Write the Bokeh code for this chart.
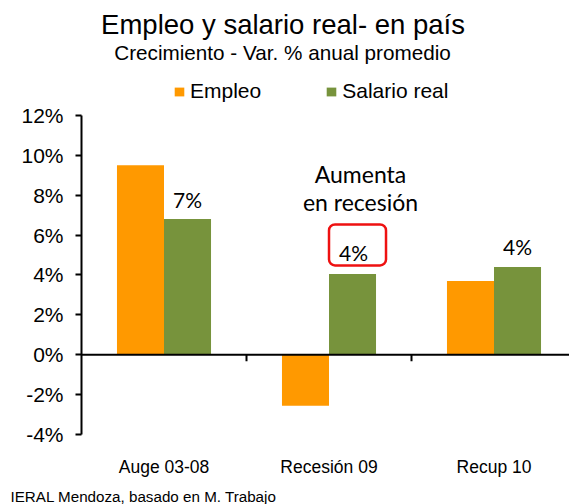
from bokeh.plotting import figure
from bokeh.models import (Range1d, FixedTicker, PrintfTickFormatter, Span, Label, Title,
                          Legend, LegendItem, ColumnDataSource)
from bokeh.transform import dodge
from bokeh.embed import file_html
from bokeh.resources import INLINE
from bokeh.core.properties import value

# ---------------- data ----------------
categories = ["Auge 03-08", "Recesión 09", "Recup 10"]
empleo = [9.5, -2.55, 3.7]
salario = [6.8, 4.05, 4.4]
y_ticks = [-4, -2, 0, 2, 4, 6, 8, 10, 12]
series_names = ["Empleo", "Salario real"]
title_text = "Empleo y salario real- en país"
subtitle_text = "Crecimiento - Var. % anual promedio"
note_lines = ["Aumenta", "en recesión"]
source_text = "IERAL Mendoza, basado en M. Trabajo"
highlight = "Recesión 09"

# ---------------- style / layout ----------------
ORANGE = "#FF9900"
GREEN = "#77933C"
RED = "#EE1111"
SANS = "Liberation Sans"
CAL = "Lato"
W, H = 569, 504
LEFT, BOTTOM = 81, 18
FRAME_W = W - LEFT
FRAME_H = H - BOTTOM
PX_PER_UNIT = 20          # vertical pixels per percentage point
CAT_PX = 165              # horizontal pixels per category
TOP_GAP_PX = 115          # space above the top tick
BAR_W = 0.285
CAT_LABEL_Y = -5.6
NOTE_Y = [9.05, 7.65]

idx = list(range(len(categories)))
centers = [i + 0.5 for i in idx]
src = ColumnDataSource(dict(x=centers, empleo=empleo, salario=salario, cat=categories))

y_top = y_ticks[-1] + TOP_GAP_PX / PX_PER_UNIT
y_bot = y_top - FRAME_H / PX_PER_UNIT
p = figure(width=W, height=H, output_backend="svg", toolbar_location=None,
           x_axis_location=None,
           x_range=Range1d(0, FRAME_W / CAT_PX), y_range=Range1d(y_bot, y_top),
           min_border_left=LEFT, min_border_top=0, min_border_bottom=BOTTOM,
           min_border_right=0)
p.grid.visible = False
p.outline_line_color = None
p.background_fill_color = "white"

r1 = p.vbar(x=dodge("x", -BAR_W / 2, range=p.x_range), top="empleo", bottom=0,
            width=BAR_W, source=src, fill_color=ORANGE, line_color=None)
r2 = p.vbar(x=dodge("x", BAR_W / 2, range=p.x_range), top="salario", bottom=0,
            width=BAR_W, source=src, fill_color=GREEN, line_color=None)

# zero line and category separators
p.add_layout(Span(location=0, dimension="width", line_color="black", line_width=2))
bounds = idx[1:]
p.segment(x0=bounds, y0=[0] * len(bounds), x1=bounds, y1=[-0.32] * len(bounds),
          line_color="black", line_width=2)

# category names under the plot area
p.text(x="x", y=CAT_LABEL_Y, text="cat", source=src, text_align="center",
       text_baseline="alphabetic", text_font=value(SANS), text_font_size="17.5px",
       text_color="black")

# y axis
ya = p.yaxis[0]
ya.bounds = (y_ticks[0], y_ticks[-1])
ya.ticker = FixedTicker(ticks=y_ticks)
ya.formatter = PrintfTickFormatter(format="%d%%")
ya.axis_line_width = 2
ya.major_tick_line_width = 2
ya.major_tick_out = 6
ya.major_tick_in = 0
ya.minor_tick_line_color = None
ya.major_label_standoff = 12
ya.major_label_text_font = SANS
ya.major_label_text_font_size = "21px"
ya.major_label_text_color = "black"

# source note below
p.add_layout(Title(text=source_text, align="left", offset=10 - LEFT, standoff=0,
                   vertical_align="bottom", text_font=SANS, text_font_size="15.2px",
                   text_font_style="normal", text_color="black"), "below")

# data labels for Salario real
h = categories.index(highlight)
for i in idx:
    kw = dict(x=centers[i] + BAR_W / 2, y=salario[i], text=f"{round(salario[i])}%",
              y_offset=20, text_align="center", text_baseline="alphabetic",
              text_font=CAL, text_font_size="21px", text_color="black")
    if i == h:
        kw.update(border_line_color=RED, border_line_width=2.5, border_radius=6,
                  padding=dict(left=10, right=18, top=16, bottom=0), x_offset=5,
                  y_offset=29)
    p.add_layout(Label(**kw))

# note
for line, ny in zip(note_lines, NOTE_Y):
    p.add_layout(Label(x=centers[h] + BAR_W / 2, y=ny, x_offset=8, text=line,
                       text_align="center", text_baseline="alphabetic",
                       text_font=CAL, text_font_size="23px", text_color="black"))

# titles (screen units relative to the frame's bottom-left)
p.add_layout(Label(x=201.5, y=FRAME_H - 25, x_units="screen", y_units="screen",
                   text=title_text, text_align="center", text_baseline="alphabetic",
                   text_font=SANS, text_font_size="27.5px", text_color="black"))
p.add_layout(Label(x=201, y=FRAME_H - 52.5, x_units="screen", y_units="screen",
                   text=subtitle_text, text_align="center", text_baseline="alphabetic",
                   text_font=SANS, text_font_size="20.7px", text_color="black"))

legend = Legend(items=[LegendItem(label=series_names[0], renderers=[r1]),
                       LegendItem(label=series_names[1], renderers=[r2])],
                orientation="horizontal", location=(92, FRAME_H - 104), padding=0, margin=0,
                spacing=64, glyph_width=12, glyph_height=11, label_standoff=5,
                label_text_font=SANS, label_text_font_size="21px",
                label_text_color="black", border_line_color=None,
                background_fill_alpha=0)
p.add_layout(legend)

open("out.html", "w").write(file_html(p, INLINE))
